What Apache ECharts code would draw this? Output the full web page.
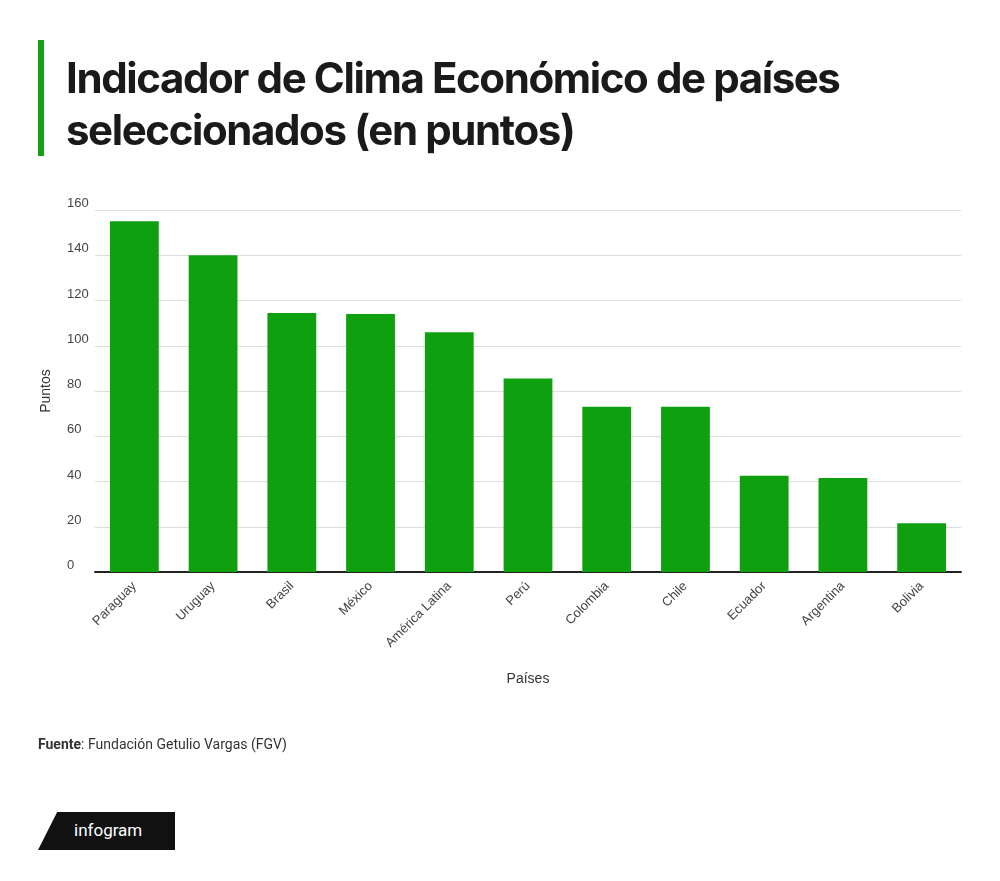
<!DOCTYPE html>
<html><head><meta charset="utf-8">
<script src="https://cdn.jsdelivr.net/npm/echarts@6/dist/echarts.min.js"></script>
<style>
body{margin:0;background:#fff;font-family:Roboto,"Noto Sans",sans-serif;}
#wrap{position:relative;width:1000px;height:881px;}
#bar{position:absolute;left:38px;top:40px;width:6px;height:116px;background:#14a114;}
#title{position:absolute;left:66px;top:52px;font-family:Inter,Roboto,sans-serif;font-weight:700;font-size:42px;line-height:52px;letter-spacing:-1.4px;color:#1a1a1a;}
#src{position:absolute;left:38px;top:736px;font-size:14px;color:#333;}
#logo{position:absolute;left:38px;top:812px;width:137px;height:38px;background:#111;clip-path:polygon(14% 0,100% 0,100% 100%,28% 100%,20% 130%,20% 100%,0 100%);}
#logo span{position:absolute;left:36px;top:8px;color:#fff;font-size:17px;}
#c{position:absolute;left:0;top:0;width:1000px;height:881px;}
</style></head><body><div id="wrap">
<div id="c"></div>
<div id="bar"></div>
<div id="title">Indicador de Clima Económico de países<br>seleccionados (en puntos)</div>
<div id="src"><b>Fuente</b>: Fundación Getulio Vargas (FGV)</div>
<div id="logo"><span>infogram</span></div>
</div>
<script>
const categories=["Paraguay","Uruguay","Brasil","México","América Latina","Perú","Colombia","Chile","Ecuador","Argentina","Bolivia"];
const values=[155,140,114.5,114,106,85.5,73,73,42.5,41.5,21.5];
const chart=echarts.init(document.getElementById('c'));
chart.setOption({
 animation:false,
 grid:{left:95,right:39,top:210,bottom:309},
 xAxis:{type:'category',data:categories,name:'Países',nameLocation:'middle',nameGap:100,
  nameTextStyle:{fontSize:14,color:'#333'},
  axisLine:{lineStyle:{color:'#222',width:2}},axisTick:{show:false},
  axisLabel:{rotate:45,fontSize:13,color:'#444',margin:12}},
 yAxis:{type:'value',min:0,max:160,interval:20,name:'Puntos',nameLocation:'middle',nameGap:42,
  nameTextStyle:{fontSize:14,color:'#333'},
  axisLabel:{fontSize:13,color:'#444',align:'left',margin:28,verticalAlign:'bottom'},
  splitLine:{lineStyle:{color:'#ddd'}}},
 series:[{type:'bar',data:values,barWidth:'62%',itemStyle:{color:'#0fa00f'}}]
});
</script></body></html>
